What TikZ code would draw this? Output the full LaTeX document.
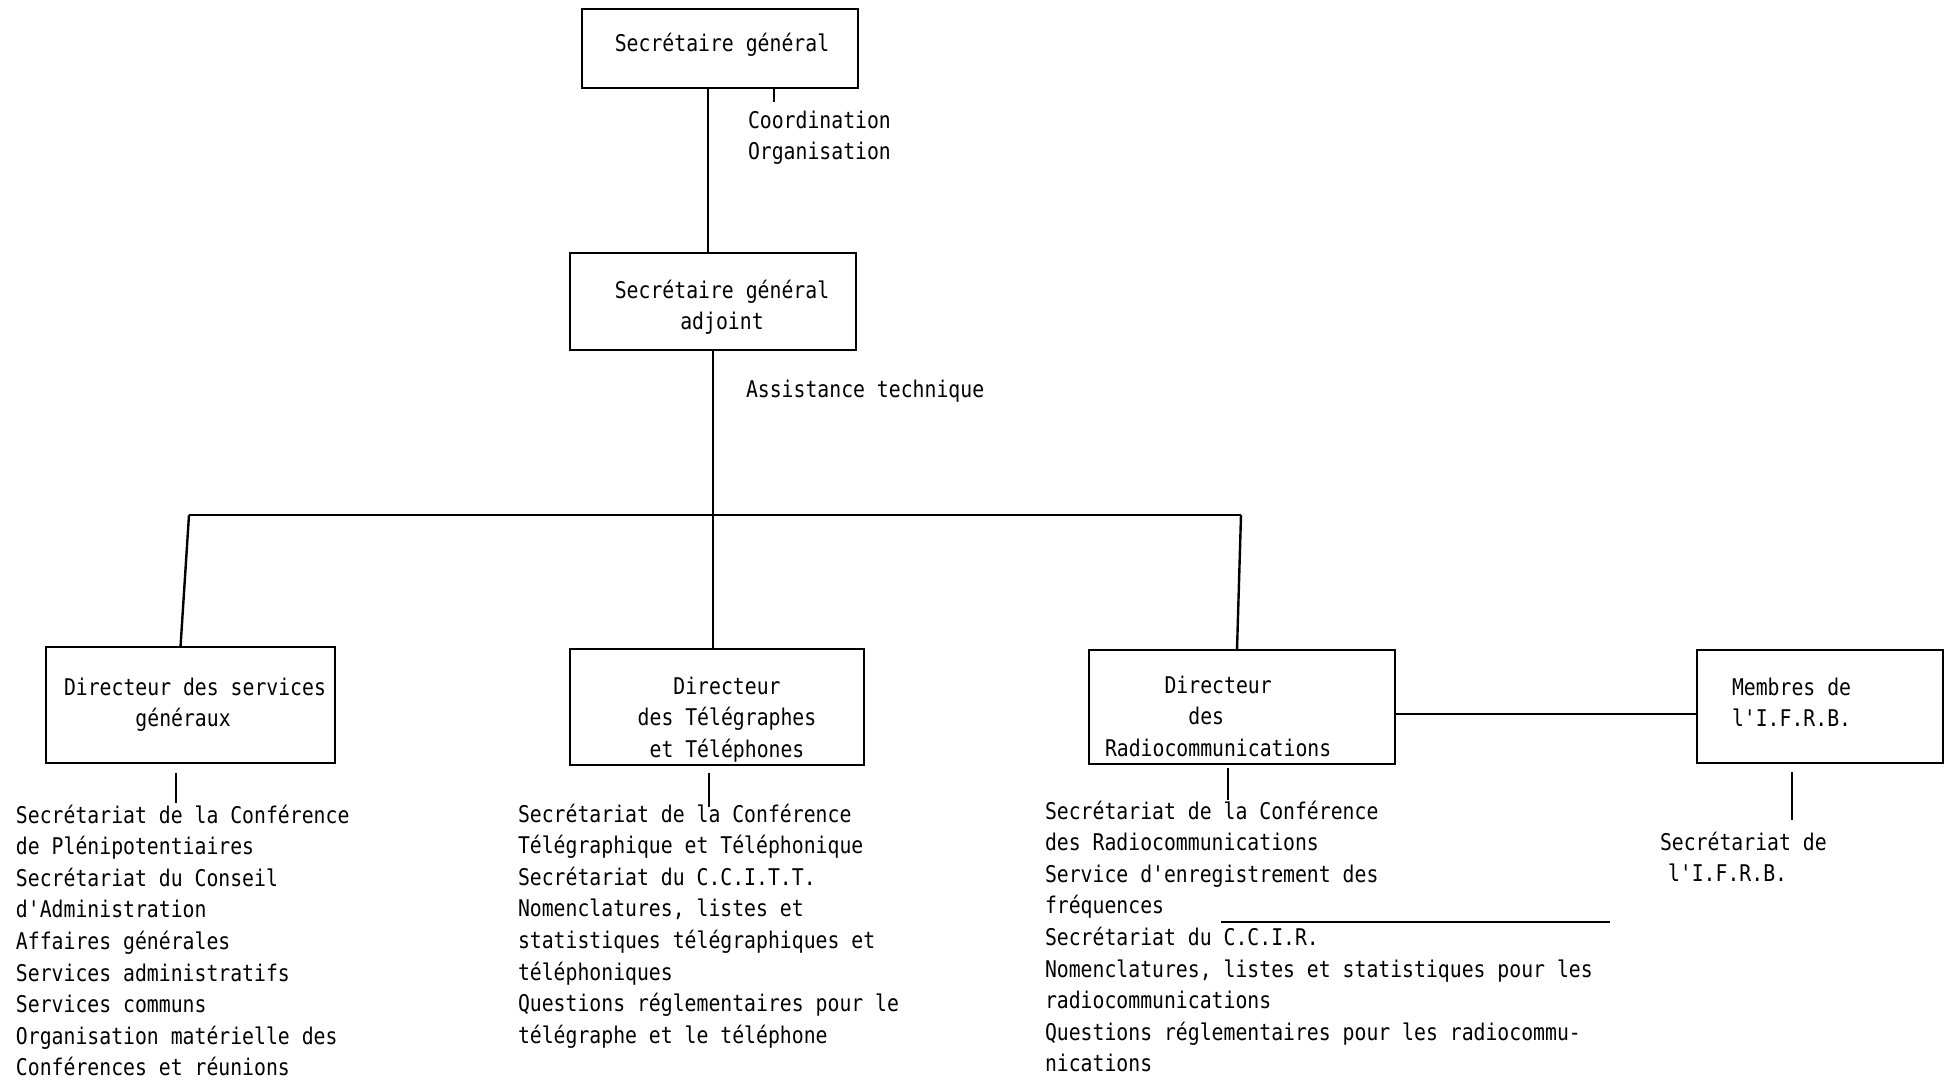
\documentclass[tikz,border=0pt]{standalone}
\usepackage{fontspec}
\newfontfamily\typewriter[FakeStretch=0.86]{DejaVu Sans Mono}
% stacked lines with a fixed baseline distance; the box baseline is the first line
\newcommand\lft[1]{\vtop{\baselineskip=31.6pt\lineskiplimit=-100pt\lineskip=0pt\halign{##\hfil\cr#1\crcr}}}
\newcommand\ctr[1]{\vtop{\baselineskip=31.6pt\lineskiplimit=-100pt\lineskip=0pt\halign{\hfil##\hfil\cr#1\crcr}}}
\begin{document}
\begin{tikzpicture}[x=1pt,y=-1pt,
  txt/.style={font=\typewriter\fontsize{23}{31.6}\selectfont, inner sep=0pt, outer sep=0pt},
  box/.style={draw, line width=2.4pt, inner sep=0pt, outer sep=0pt},
  link/.style={line width=2.4pt}]
\path[use as bounding box, fill=white] (0,0) rectangle (1949,1082);

% boxes
\node[box, minimum width=276pt, minimum height=79pt]  (sg)   at (720,48.5)   {};
\node[box, minimum width=286pt, minimum height=97pt]  (sga)  at (713,301.5)  {};
\node[box, minimum width=289pt, minimum height=116pt] (dsg)  at (190.5,705)  {};
\node[box, minimum width=294pt, minimum height=116pt] (dtt)  at (717,707)    {};
\node[box, minimum width=306pt, minimum height=114pt] (drc)  at (1242,707)   {};
\node[box, minimum width=246pt, minimum height=113pt] (ifrb) at (1820,706.5) {};

% box titles
\node[txt, anchor=base] (sgT) at (722,51) {Secrétaire général};
\node[txt, anchor=base] (sgaT) at (722,298) {\ctr{Secrétaire général\cr adjoint}};
\node[txt, anchor=base west] (dsgT) at (64,695) {\lft{Directeur des services\cr\hphantom{xxxxxx}généraux}};
\node[txt, anchor=base] (dttT) at (727,694) {\ctr{Directeur\cr des Télégraphes\cr et Téléphones}};
\node[txt, anchor=base west] (drcT) at (1105,693) {\lft{\hphantom{xxxxx}Directeur\cr\hphantom{xxxxxxx}des\cr Radiocommunications}};
\node[txt, anchor=base west] (ifrbT) at (1732,695) {\lft{Membres de\cr l'I.F.R.B.}};

% line labels
\node[txt, anchor=base west] (coord) at (748,128) {\lft{Coordination\cr Organisation}};
\node[txt, anchor=base west] (assist) at (746,397) {Assistance technique};

% task lists
\node[txt, anchor=base west] (listG) at (16,823) {\lft{Secrétariat de la Conférence\cr
de Plénipotentiaires\cr
Secrétariat du Conseil\cr
d'Administration\cr
Affaires générales\cr
Services administratifs\cr
Services communs\cr
Organisation matérielle des\cr
Conférences et réunions}};
\node[txt, anchor=base west] (listT) at (518,822) {\lft{Secrétariat de la Conférence\cr
Télégraphique et Téléphonique\cr
Secrétariat du C.C.I.T.T.\cr
Nomenclatures, listes et\cr
statistiques télégraphiques et\cr
téléphoniques\cr
Questions réglementaires pour le\cr
télégraphe et le téléphone}};
\node[txt, anchor=base west] (listR) at (1045,819) {\lft{Secrétariat de la Conférence\cr
des Radiocommunications\cr
Service d'enregistrement des\cr
fréquences\cr
Secrétariat du C.C.I.R.\cr
Nomenclatures, listes et statistiques pour les\cr
radiocommunications\cr
Questions réglementaires pour les radiocommu-\cr
nications}};
\node[txt, anchor=base west] (listI) at (1660,850) {\lft{Secrétariat de\cr\hspace*{8pt}l'I.F.R.B.}};

% connectors
\coordinate (busL) at (189,515);
\coordinate (busR) at (1241,515);
\coordinate (tick) at (774,102);
\draw[link] ([xshift=-12pt]sg.south) -- ([xshift=-12pt]sg.south |- sga.north);
\draw[link] (tick |- sg.south) -- (tick);
\draw[link] (sga.south) -- (sga.south |- dtt.north);
\draw[link] (busL) -- (busR);
\draw[link] (busL) -- ([xshift=-10pt]dsg.north);
\draw[link] (busR) -- ([xshift=-5pt]drc.north);
\draw[link] ([yshift=-7pt]drc.east) -- ([yshift=-7pt]drc.east -| ifrb.west);

% stubs leading to the task lists
\coordinate (gA) at (176,773);  \coordinate (gB) at (176,803);
\coordinate (tA) at (709,773);  \coordinate (tB) at (709,807);
\coordinate (rA) at (1228,768); \coordinate (rB) at (1228,800);
\coordinate (iA) at (1792,772); \coordinate (iB) at (1792,820);
\draw[link] (gA) -- (gB);
\draw[link] (tA) -- (tB);
\draw[link] (rA) -- (rB);
\draw[link] (iA) -- (iB);

% rule over the C.C.I.R. entry
\coordinate (ovA) at (1221,922);
\coordinate (ovB) at (1610,922);
\draw[line width=2pt] (ovA) -- (ovB);
\end{tikzpicture}
\end{document}
